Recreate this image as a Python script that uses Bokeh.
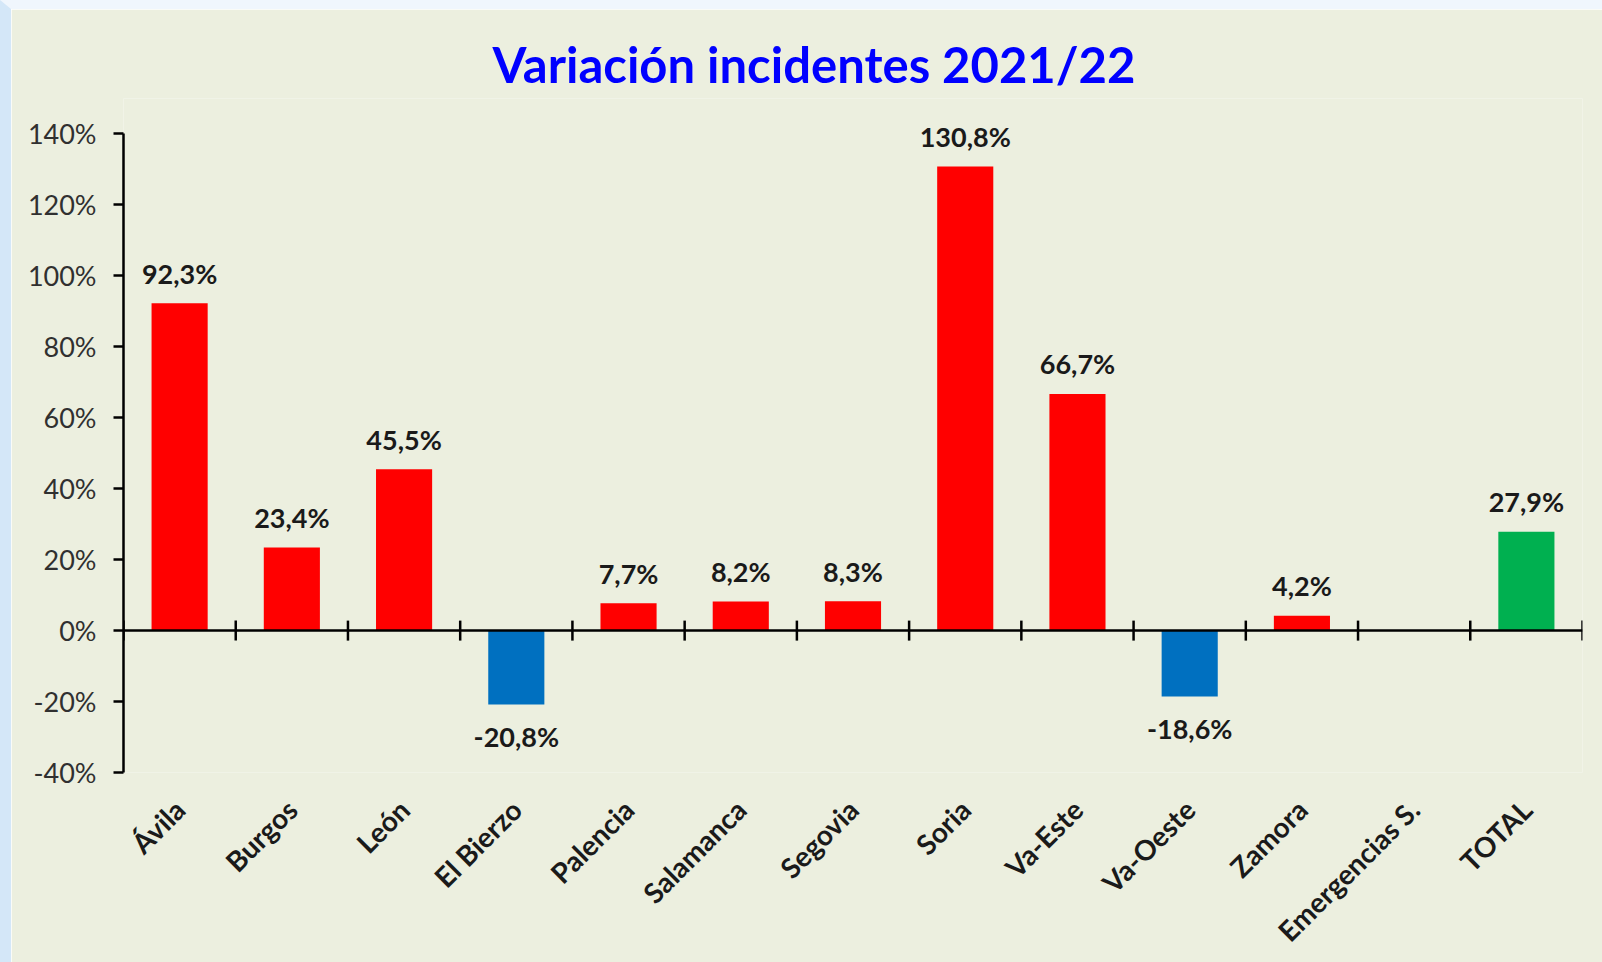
import math
from bokeh.plotting import figure
from bokeh.models import ColumnDataSource, Range1d, FixedTicker, PrintfTickFormatter, Span
from bokeh.core.properties import value
from bokeh.embed import file_html
from bokeh.resources import INLINE

# ---- data ----
categories = ["Ávila", "Burgos", "León", "El Bierzo", "Palencia", "Salamanca", "Segovia",
              "Soria", "Va-Este", "Va-Oeste", "Zamora", "Emergencias S.", "TOTAL"]
variation = [92.3, 23.4, 45.5, -20.8, 7.7, 8.2, 8.3, 130.8, 66.7, -18.6, 4.2, None, 27.9]
y_ticks = [-40, -20, 0, 20, 40, 60, 80, 100, 120, 140]
title_text = "Variación incidentes 2021/22"

RED, BLUE, GREEN = "#FF0000", "#0070C0", "#00B050"
BG = "#ECEFDF"
FONT = "Lato"

n = len(categories)
xs, vals, colors, labels = [], [], [], []
for i, (c, v) in enumerate(zip(categories, variation)):
    if v is None:
        continue
    xs.append(i + 0.5)
    vals.append(v)
    colors.append(GREEN if c == "TOTAL" else (BLUE if v < 0 else RED))
    labels.append(f"{v:.1f}".replace(".", ",") + "%")

src = ColumnDataSource(dict(x=xs, top=vals, color=colors, label=labels))
pos = ColumnDataSource(dict(x=[x for x, v in zip(xs, vals) if v >= 0],
                            y=[v for v in vals if v >= 0],
                            label=[l for l, v in zip(labels, vals) if v >= 0]))
neg = ColumnDataSource(dict(x=[x for x, v in zip(xs, vals) if v < 0],
                            y=[v for v in vals if v < 0],
                            label=[l for l, v in zip(labels, vals) if v < 0]))

p = figure(width=1602, height=962, output_backend="svg", toolbar_location=None,
           x_range=Range1d(0, n), y_range=Range1d(-40, 150),
           min_border_left=112, min_border_right=31, min_border_top=89, min_border_bottom=199,
           title=title_text)
p.styles = {"border-left": "11px solid #D4E7F8", "border-top": "9px solid #F0F6FD",
            "box-sizing": "border-box"}

p.background_fill_color = BG
p.border_fill_color = BG
p.outline_line_color = None
p.grid.visible = False

p.title.text_font = FONT
p.title.text_font_size = "49px"
p.title.text_font_style = "bold"
p.title.text_color = "#0000FF"
p.title.align = "left"
p.title.offset = 369
p.title.standoff = 12

# bars
p.vbar(x="x", top="top", bottom=0, width=0.5, color="color", line_color=None, source=src)

# zero axis line and boundary ticks
p.add_layout(Span(location=0, dimension="width", line_color="black", line_width=2.5))
p.scatter(x=list(range(n + 1)), y=[0] * (n + 1), marker="dash", size=20, angle=math.pi / 2,
          line_color="black", line_width=2.5)

# data labels
for s, off in ((pos, -30), (neg, 32)):
    p.text(x="x", y="y", text="label", source=s, text_align="center", text_baseline="alphabetic",
           y_offset=off, text_font=value(FONT), text_font_size="27px", text_font_style="bold",
           text_color="#1A1A1A")

# y axis
ya = p.yaxis[0]
ya.ticker = FixedTicker(ticks=y_ticks)
ya.formatter = PrintfTickFormatter(format="%d%%")
ya.bounds = (y_ticks[0], y_ticks[-1])
ya.axis_line_width = 2.5
ya.major_tick_line_width = 2.5
ya.major_tick_out = 10
ya.major_tick_in = 0
ya.minor_tick_line_color = None
ya.major_label_standoff = 17
ya.major_label_text_font = FONT
ya.major_label_text_font_size = "27px"
ya.major_label_text_color = "#303030"

# x axis (labels only)
xa = p.xaxis[0]
xa.ticker = FixedTicker(ticks=[i + 0.5 for i in range(n)])
xa.major_label_overrides = {i + 0.5: c for i, c in enumerate(categories)}
xa.axis_line_color = None
xa.major_tick_line_color = None
xa.minor_tick_line_color = None
xa.major_label_orientation = math.pi / 4
xa.major_label_standoff = 26
xa.major_label_text_font = FONT
xa.major_label_text_font_size = "28px"
xa.major_label_text_font_style = "bold"
xa.major_label_text_color = "#1A1A1A"

open("out.html", "w").write(file_html(p, INLINE))
